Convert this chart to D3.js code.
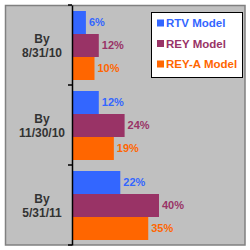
<!DOCTYPE html>
<html>
<head>
<meta charset="utf-8">
<script src="https://cdn.jsdelivr.net/npm/d3@7"></script>
<style>
  html, body { margin: 0; padding: 0; background: #fff; }
  svg { display: block; font-family: "Liberation Sans", Arial, sans-serif; }
</style>
</head>
<body>
<div id="chart"></div>
<script>
// Grouped horizontal bars: share of models by date.

const periods = [["By", "8/31/10"], ["By", "11/30/10"], ["By", "5/31/11"]];
const models = ["RTV Model", "REY Model", "REY-A Model"];
const rtv = [6, 12, 22];
const rey = [12, 24, 40];
const reyA = [10, 19, 35];

const COLORS = ["#3366ff", "#993366", "#ff6600"];
const W = 250, H = 250;
const PLOT = { left: 72, right: 245, top: 5, bottom: 245 };

const rows = periods.map((p, i) => ({
  key: p.join(" "),
  lines: p,
  values: [rtv[i], rey[i], reyA[i]],
}));

const svg = d3.select("#chart").append("svg")
  .attr("width", W).attr("height", H);

// gray chart frame
svg.append("rect")
  .attr("x", 5.5).attr("y", 5.5)
  .attr("width", 239.5).attr("height", 239.5)
  .attr("fill", "#c0c0c0")
  .attr("stroke", "#808080")
  .attr("stroke-width", 1.5);

const x = d3.scaleLinear().domain([0, 80]).range([PLOT.left + 1, PLOT.right]);
const y = d3.scaleBand().domain(rows.map(r => r.key)).range([PLOT.top, PLOT.bottom]);
const inner = d3.scaleBand().domain(d3.range(models.length)).range([6, y.bandwidth() - 5]);

const groups = svg.append("g").selectAll("g")
  .data(rows).join("g")
  .attr("transform", d => `translate(0,${y(d.key)})`);

groups.selectAll("rect")
  .data(d => d.values)
  .join("rect")
  .attr("x", x(0))
  .attr("y", (v, i) => inner(i))
  .attr("width", v => x(v) - x(0))
  .attr("height", inner.bandwidth())
  .attr("fill", (v, i) => COLORS[i]);

groups.selectAll("text.val")
  .data(d => d.values)
  .join("text")
  .attr("class", "val")
  .attr("x", v => x(v) + 3)
  .attr("y", (v, i) => inner(i) + inner.bandwidth() / 2)
  .attr("dy", "0.35em")
  .attr("fill", (v, i) => COLORS[i])
  .style("font-size", "11px")
  .style("font-weight", "bold")
  .text(v => v + "%");

// category labels
groups.append("text")
  .attr("x", 42)
  .attr("y", y.bandwidth() / 2)
  .attr("text-anchor", "middle")
  .attr("fill", "#333")
  .style("font-size", "12px")
  .style("font-weight", "bold")
  .selectAll("tspan")
  .data(d => d.lines)
  .join("tspan")
  .attr("x", 42)
  .attr("y", (t, i) => y.bandwidth() / 2 + (i === 0 ? -6 : 8) + 4)
  .text(t => t);

// category axis
svg.append("g")
  .attr("transform", `translate(${PLOT.left},0)`)
  .call(d3.axisLeft(y).tickValues([]).tickSizeOuter(0))
  .call(g => g.select(".domain").attr("stroke", "#000").attr("stroke-width", 1.5));

svg.append("g").selectAll("line")
  .data([PLOT.top, ...rows.map(r => y(r.key) + y.bandwidth())])
  .join("line")
  .attr("x1", PLOT.left - 4).attr("x2", PLOT.left)
  .attr("y1", d => d).attr("y2", d => d)
  .attr("stroke", "#000").attr("stroke-width", 1.5);

// legend
const legend = svg.append("g").attr("transform", "translate(151,12)");
legend.append("rect")
  .attr("x", 0.5).attr("y", 0.5)
  .attr("width", 91).attr("height", 65)
  .attr("fill", "#fff")
  .attr("stroke", "#000");

const item = legend.selectAll("g.item")
  .data(models).join("g")
  .attr("class", "item")
  .attr("transform", (m, i) => `translate(6,${11 + i * 20.5})`);

item.append("rect")
  .attr("x", 0).attr("y", -3.5)
  .attr("width", 7).attr("height", 7)
  .attr("fill", (m, i) => COLORS[i]);

item.append("text")
  .attr("x", 9)
  .attr("dy", "0.36em")
  .attr("fill", (m, i) => COLORS[i])
  .style("font-size", "11.5px")
  .style("font-weight", "bold")
  .text(m => m);
</script>
</body>
</html>
